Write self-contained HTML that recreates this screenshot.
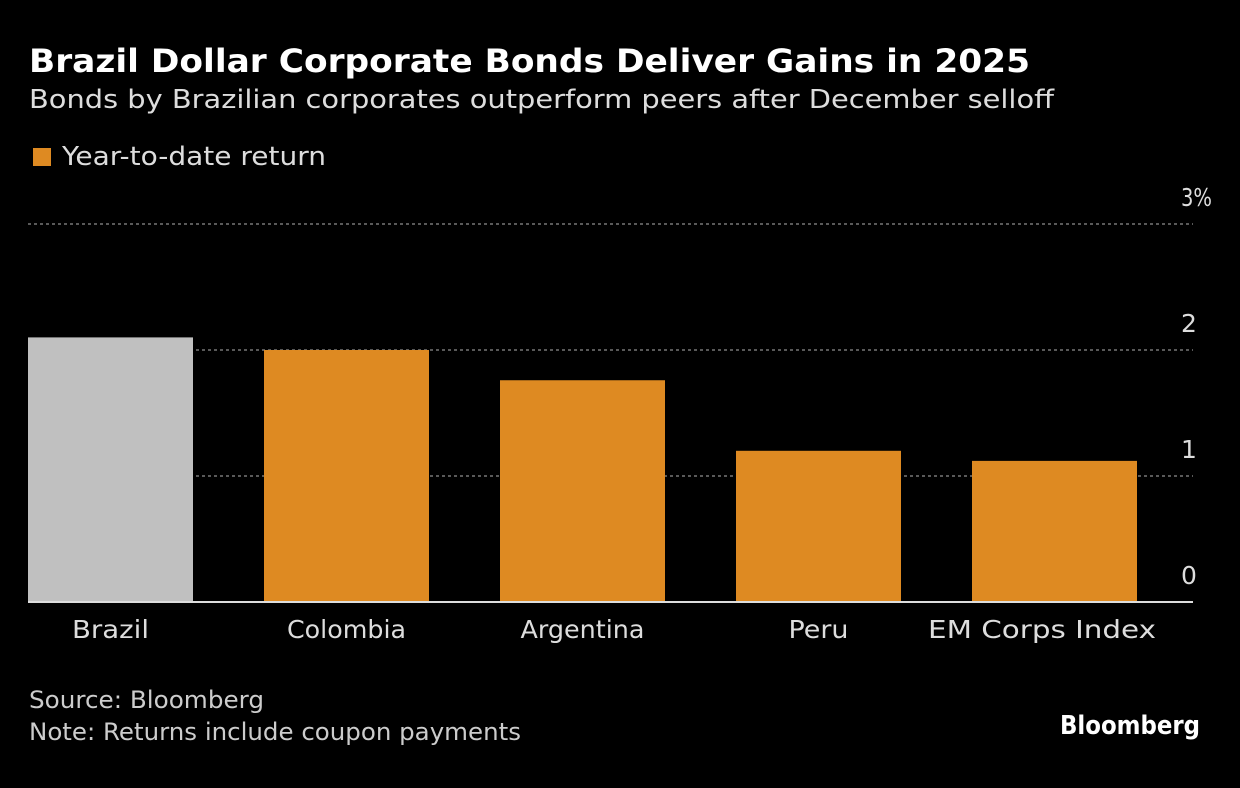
<!DOCTYPE html>
<html><head><meta charset="utf-8"><style>
html,body{margin:0;padding:0;background:#000;}
body{width:1240px;height:788px;position:relative;overflow:hidden;font-family:"DejaVu Sans","Liberation Sans",sans-serif;color:#fff;}
.t{position:absolute;white-space:nowrap;transform-origin:0 0;}
</style></head><body>
<div class="t" data-w="1001" style="left:29px;top:42px;font-size:32px;font-weight:bold;">Brazil Dollar Corporate Bonds Deliver Gains in 2025</div>
<div class="t" data-w="1025" style="left:29px;top:85px;font-size:26px;color:#ddd;">Bonds by Brazilian corporates outperform peers after December selloff</div>
<div style="position:absolute;left:33px;top:148px;width:18px;height:18px;background:#de8a22;"></div>
<div class="t" data-w="264" style="left:62px;top:142px;font-size:26px;color:#ddd;">Year-to-date return</div>
<svg id="chart" width="1240" height="788" style="position:absolute;left:0;top:0;"></svg>
<div class="t" data-w="235" style="left:29px;top:686px;font-size:24px;color:#ccc;">Source: Bloomberg</div>
<div class="t" data-w="492" style="left:29px;top:718px;font-size:24px;color:#ccc;">Note: Returns include coupon payments</div>
<div class="t" data-w="140" style="left:1060px;top:711px;font-size:26px;font-weight:bold;">Bloomberg</div>
<script>
const categories=["Brazil","Colombia","Argentina","Peru","EM Corps Index"];
const values=[2.1,2.0,1.76,1.2,1.12];
const colors=["#c0c0c0","#de8a22","#de8a22","#de8a22","#de8a22"];
const ticks=[0,1,2,3];
const tickLabels=["0","1","2","3%"];
const catWidths=[77,119,124,60,228];
const svg=document.getElementById('chart');
const NS="http://www.w3.org/2000/svg";
const x0=28,x1=1193,y0=602,pxPerUnit=126;
const y=v=>y0-v*pxPerUnit;
const step=236,bw=165;
const bx=i=>x0+i*step;
function mk(t,a){const e=document.createElementNS(NS,t);for(const k in a)e.setAttribute(k,a[k]);svg.appendChild(e);return e;}
ticks.forEach((t,i)=>{
 if(t>0){const l=mk('line',{x1:x0,x2:x1,y1:y(t),y2:y(t),stroke:'#777','stroke-width':1.5,'stroke-dasharray':'3,3'});
 
 }
 const attrs={x:1181,y:y(t)-18,'font-size':25,fill:'#ddd','font-family':'DejaVu Sans, sans-serif'};
 if(tickLabels[i].length>1){attrs.textLength=31;attrs.lengthAdjust='spacingAndGlyphs';}
 const tx=mk('text',attrs);
 tx.textContent=tickLabels[i];
 
 
});
values.forEach((v,i)=>{
 const r=mk('rect',{x:bx(i),y:y(v),width:bw,height:y0-y(v),fill:colors[i]});
 
 
 let cx=bx(i)+bw/2;
 if(cx+catWidths[i]/2>1160)cx=1156-catWidths[i]/2;
 const tx=mk('text',{x:cx,y:638,'text-anchor':'middle','font-size':25,fill:'#ddd','font-family':'DejaVu Sans, sans-serif',textLength:catWidths[i],lengthAdjust:'spacingAndGlyphs'});
 tx.textContent=categories[i];
 
 
});
const ax=mk('line',{x1:x0,x2:x1,y1:y0,y2:y0,stroke:'#ddd','stroke-width':2});


document.querySelectorAll('.t[data-w]').forEach(el=>{
 const w=el.getBoundingClientRect().width;
 const target=+el.getAttribute('data-w');
 if(w>0)el.style.transform='scaleX('+(target/w)+')';
});
</script>
</body></html>
